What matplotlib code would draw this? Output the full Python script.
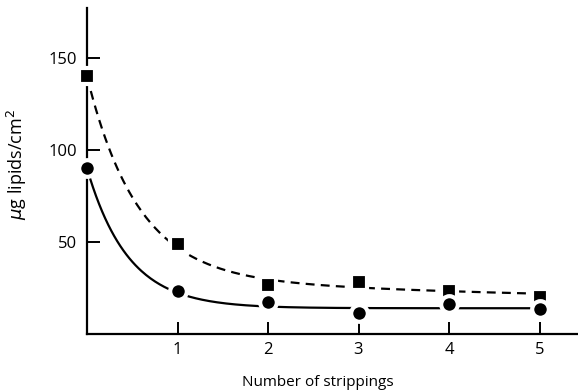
import numpy as np
import matplotlib
matplotlib.use("Agg")
import matplotlib.pyplot as plt

# Lipid recovered per stripping
strippings = [0, 1, 2, 3, 4, 5]
squares = [140, 49, 26.6, 28, 23.4, 20]
circles = [90, 23.4, 17.4, 11.4, 16.3, 13.6]

# Decay curves drawn through each series: plateau + fast term + slow term
dashed_curve = dict(plateau=16, fast_amp=108, fast_rate=1.8, slow_amp=16, slow_rate=0.2)
solid_curve = dict(plateau=14, fast_amp=76, fast_rate=2.2, slow_amp=0, slow_rate=0.0)

y_ticks = [50, 100, 150]
x_ticks = [1, 2, 3, 4, 5]

plt.rcParams["font.family"] = ["Open Sans", "DejaVu Sans"]

fig = plt.figure(figsize=(5.78, 3.91), dpi=100)
ax = fig.add_axes([87 / 578, 57 / 391, (578 - 87) / 578, (334 - 8) / 391])


def decay(x, plateau, fast_amp, fast_rate, slow_amp, slow_rate):
    return plateau + fast_amp * np.exp(-fast_rate * x) + slow_amp * np.exp(-slow_rate * x)


xs = np.linspace(strippings[0], strippings[-1], 300)
ax.plot(xs, decay(xs, **dashed_curve), color="black", lw=1.6,
        linestyle=(0, (4, 2.8)), zorder=2)
ax.plot(xs, decay(xs, **solid_curve), color="black", lw=1.6, zorder=2)

ax.plot(strippings, squares, linestyle="none", marker="s", ms=11,
        mfc="black", mec="white", mew=3, zorder=3, clip_on=False)
ax.plot(strippings, circles, linestyle="none", marker="o", ms=12,
        mfc="black", mec="white", mew=3, zorder=3, clip_on=False)

ax.set_xlim(0, (578 - 87) / 90.5)
ax.set_ylim(0, (334 - 8) / 1.84)

for side in ("top", "right"):
    ax.spines[side].set_visible(False)
for side in ("left", "bottom"):
    ax.spines[side].set_linewidth(1.6)

ax.set_xticks(x_ticks)
ax.set_xticklabels([str(t) for t in x_ticks])
ax.set_yticks(y_ticks)
ax.set_yticklabels([str(t) for t in y_ticks])
ax.tick_params(axis="both", direction="in", length=9, width=1.4,
               labelsize=12, colors="black")
ax.tick_params(axis="y", pad=7)
ax.tick_params(axis="x", pad=6)

ax.set_xlabel("Number of strippings", fontsize=11)
ax.xaxis.set_label_coords(0.47, -0.125)
ax.set_ylabel("$\\mu$g lipids/cm$^2$", fontsize=13)
ax.yaxis.set_label_coords(-0.118, 0.52)

fig.savefig("out.png", dpi=100)
